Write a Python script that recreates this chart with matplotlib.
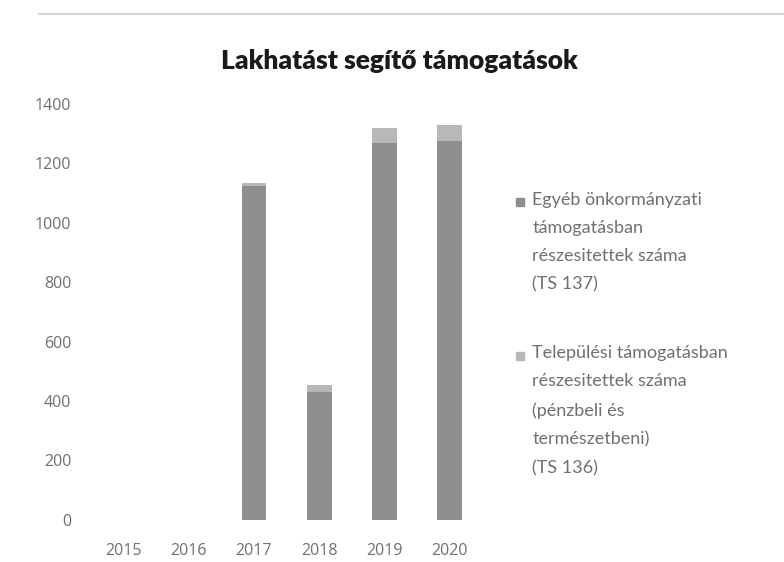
import matplotlib.pyplot as plt
from matplotlib.patches import Rectangle
from matplotlib.lines import Line2D
import numpy as np

# Data
years = ['2015', '2016', '2017', '2018', '2019', '2020']
egyeb = [0, 0, 1125, 430, 1270, 1275]        # darker series (lower segment)
telepulesi = [0, 0, 10, 25, 50, 55]          # lighter series (upper segment)
legend_labels = [
    'Egyéb önkormányzati\ntámogatásban\nrészesitettek száma\n(TS 137)',
    'Települési támogatásban\nrészesitettek száma\n(pénzbeli és\ntermészetbeni)\n(TS 136)',
]
title = 'Lakhatást segítő támogatások'

col_dark = '#8e8e8e'
col_light = '#b8b8b8'
txt_col = '#707070'

fig = plt.figure(figsize=(7.84, 5.62), dpi=100)
ax = fig.add_axes([0.116, 0.075, 0.499, 0.74])

x = np.arange(len(years))
ax.bar(x, egyeb, width=0.38, color=col_dark)
ax.bar(x, telepulesi, width=0.38, bottom=egyeb, color=col_light)

ax.set_ylim(0, 1400)
ax.set_xlim(-0.5, len(years) - 0.5)
ax.set_yticks(range(0, 1401, 200))
ax.set_xticks(x, years)
for s in ax.spines.values():
    s.set_visible(False)
ax.tick_params(length=0, colors=txt_col, labelsize=11.5)
ax.tick_params(axis='y', pad=14)
ax.tick_params(axis='x', pad=17)
for lab in ax.get_xticklabels() + ax.get_yticklabels():
    lab.set_family('Open Sans')

fig.text(0.51, 0.891, title, ha='center', va='center', fontsize=19,
         fontweight='heavy', family='Lato', color='#1a1a1a')

# faint scan line at the top
fig.add_artist(Line2D([0.05, 1.0], [0.975, 0.975], color='#d5d5d5', lw=1.5))

# legend drawn by hand so markers sit at the first line
legend_cols = [col_dark, col_light]
legend_top = [0.659, 0.386]
for lab, c, yy in zip(legend_labels, legend_cols, legend_top):
    fig.add_artist(Rectangle((0.658, yy - 0.026), 0.010, 0.014,
                             transform=fig.transFigure, color=c))
    fig.text(0.679, yy, lab, ha='left', va='top', fontsize=13,
             family='Lato', color=txt_col, linespacing=1.95)

fig.savefig('out.png', dpi=100, facecolor='white')
